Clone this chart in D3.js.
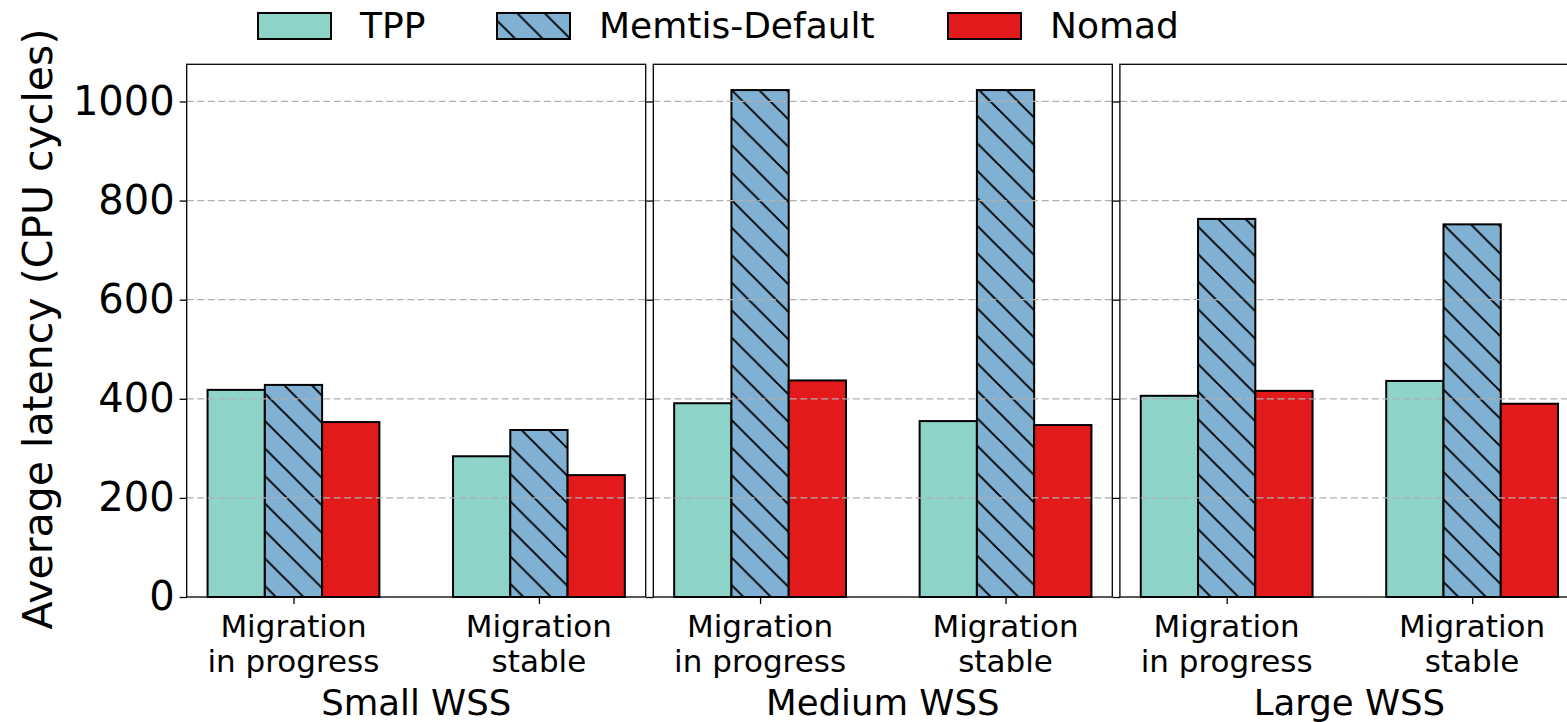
<!DOCTYPE html>
<html>
<head>
<meta charset="utf-8">
<script src="https://cdn.jsdelivr.net/npm/d3@7"></script>
<style>
  html, body { margin: 0; padding: 0; background: #fff; }
  svg text { font-family: "DejaVu Sans", sans-serif; fill: #000; }
</style>
</head>
<body>
<svg id="chart" width="1567" height="722"></svg>
<script>
// chart data
var groups = ["Small WSS", "Medium WSS", "Large WSS"];
var categories = [["Migration", "in progress"], ["Migration", "stable"]];
var seriesNames = ["TPP", "Memtis-Default", "Nomad"];
var tpp    = [418, 284, 391, 355, 406, 436];
var memtis = [428, 337, 1023, 1023, 763, 752];
var nomad  = [353, 246, 437, 347, 416, 390];
var yTicks = [0, 200, 400, 600, 800, 1000];

var colors = ["#8dd3c7", "#80b1d3", "#e31a1c"];
var values = [tpp, memtis, nomad];

var svg = d3.select("#chart");

var panelW = 459, gap = 7.6, left0 = 186.7;
var plotTop = 64.3, plotBottom = 597;

var y = d3.scaleLinear().domain([0, 1075]).range([plotBottom, plotTop]);

// hatch pattern for Memtis
var defs = svg.append("defs");
var hp = 27.5;
var pat = defs.append("pattern")
    .attr("id", "hatch")
    .attr("patternUnits", "userSpaceOnUse")
    .attr("width", hp)
    .attr("height", hp)
    .attr("patternTransform", "translate(9,0)");
pat.append("rect").attr("width", hp).attr("height", hp).attr("fill", colors[1]);
pat.append("path")
    .attr("d", "M-3,-3L" + (hp + 3) + "," + (hp + 3) +
               "M-3," + (hp - 3) + "L3," + (hp + 3) +
               "M" + (hp - 3) + ",-3L" + (hp + 3) + ",3")
    .attr("stroke", "#000")
    .attr("stroke-width", 1.9);

var fills = [colors[0], "url(#hatch)", colors[2]];
var barW = 0.7 / 3;

groups.forEach(function(g, gi) {
    var px = left0 + gi * (panelW + gap);
    var x = d3.scaleLinear().domain([-0.435, 1.435]).range([px, px + panelW]);
    var panel = svg.append("g");

    // bars
    categories.forEach(function(c, ci) {
        values.forEach(function(vals, si) {
            var v = vals[gi * 2 + ci];
            var x0 = x(ci + (si - 1) * barW - barW / 2);
            var x1 = x(ci + (si - 1) * barW + barW / 2);
            panel.append("rect")
                .attr("x", x0)
                .attr("y", y(v))
                .attr("width", x1 - x0)
                .attr("height", y(0) - y(v))
                .attr("fill", fills[si])
                .attr("stroke", "#000")
                .attr("stroke-width", 2);
        });
    });

    // grid over bars
    panel.selectAll(".grid").data(yTicks.filter(function(t) { return t > 0; }))
        .enter().append("line")
        .attr("x1", px).attr("x2", px + panelW)
        .attr("y1", function(d) { return y(d); })
        .attr("y2", function(d) { return y(d); })
        .attr("stroke", "#b0b0b0")
        .attr("stroke-width", 1.2)
        .attr("stroke-dasharray", "7,3.5");

    // y ticks
    var yAxis = d3.axisLeft(y).tickValues(yTicks).tickSize(7).tickFormat(gi === 0 ? d3.format("d") : "");
    var ya = panel.append("g").attr("transform", "translate(" + px + ",0)").call(yAxis);
    ya.select(".domain").remove();
    ya.selectAll("line").attr("stroke", "#000").attr("stroke-width", 1.3);
    ya.selectAll("text").attr("font-size", 40).attr("x", -12)
        .style("font-family", "DejaVu Sans");

    // x ticks
    var xa = panel.append("g").attr("transform", "translate(0," + plotBottom + ")")
        .call(d3.axisBottom(x).tickValues([0, 1]).tickSize(7).tickFormat(""));
    xa.select(".domain").remove();
    xa.selectAll("line").attr("stroke", "#000").attr("stroke-width", 1.3);

    categories.forEach(function(c, ci) {
        c.forEach(function(line, li) {
            panel.append("text")
                .attr("x", x(ci))
                .attr("y", 637 + li * 35)
                .attr("text-anchor", "middle")
                .attr("font-size", 31)
                .text(line);
        });
    });

    panel.append("text")
        .attr("x", px + panelW / 2)
        .attr("y", 715)
        .attr("text-anchor", "middle")
        .attr("font-size", 35.5)
        .text(g);

    // frame
    panel.append("rect")
        .attr("x", px).attr("y", plotTop)
        .attr("width", panelW).attr("height", plotBottom - plotTop)
        .attr("fill", "none")
        .attr("stroke", "#000")
        .attr("stroke-width", 1.3);
});

// y label
svg.append("text")
    .attr("transform", "translate(52,329) rotate(-90)")
    .attr("text-anchor", "middle")
    .attr("font-size", 41)
    .text("Average latency (CPU cycles)");

// legend
var legX = [258, 497, 948];
seriesNames.forEach(function(n, i) {
    svg.append("rect")
        .attr("x", legX[i]).attr("y", 13)
        .attr("width", 73).attr("height", 26)
        .attr("fill", fills[i])
        .attr("stroke", "#000")
        .attr("stroke-width", 2);
    svg.append("text")
        .attr("x", legX[i] + 102)
        .attr("y", 38)
        .attr("font-size", 36)
        .text(n);
});
</script>
</body>
</html>
